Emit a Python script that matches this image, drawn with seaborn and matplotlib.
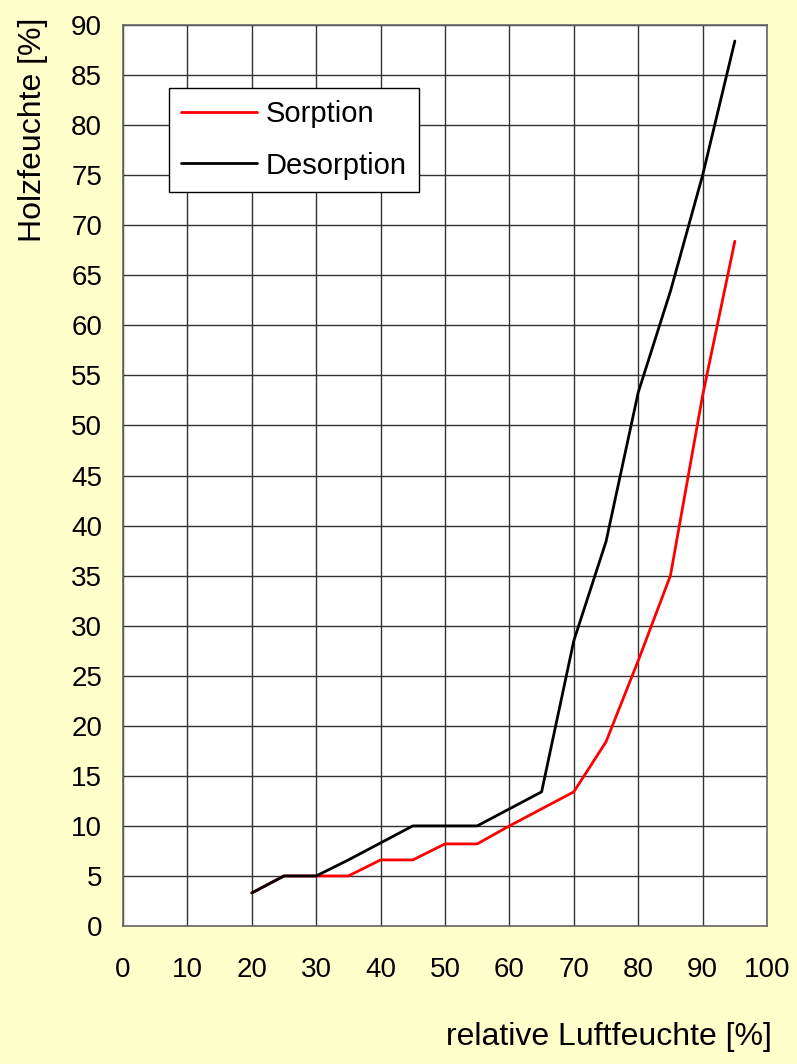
import matplotlib
matplotlib.use('Agg')
import matplotlib.pyplot as plt
import seaborn as sns
import pandas as pd

# relative Luftfeuchte [%]
rel_humidity = [20, 25, 30, 35, 40, 45, 50, 55, 60, 65, 70, 75, 80, 85, 90, 95]
# Holzfeuchte [%]
sorption = [3.3, 5, 5, 5, 6.6, 6.6, 8.2, 8.2, 10, 11.7, 13.4, 18.4, 26.5, 35, 53, 68.4]
desorption = [3.3, 5, 5, 6.6, 8.3, 10, 10, 10, 11.7, 13.4, 28.5, 38.4, 53.3, 63.4, 75, 88.4]

x_ticks = list(range(0, 101, 10))
y_ticks = list(range(0, 91, 5))

df = pd.DataFrame({
    'rh': rel_humidity * 2,
    'mc': sorption + desorption,
    'kurve': ['Sorption'] * len(sorption) + ['Desorption'] * len(desorption),
})

sns.set_style('white')
plt.rcParams['font.family'] = ['Liberation Sans', 'DejaVu Sans']
plt.rcParams['text.color'] = 'black'
plt.rcParams['xtick.color'] = 'black'
plt.rcParams['ytick.color'] = 'black'

fig = plt.figure(figsize=(7.97, 10.64), dpi=100, facecolor='#FFFFCC')
ax = fig.add_axes([0.1543, 0.1297, 0.8081, 0.8468])
ax.set_facecolor('white')

sns.lineplot(data=df, x='rh', y='mc', hue='kurve', palette={'Sorption': '#FF0000', 'Desorption': '#000000'},
             linewidth=2, ax=ax, sort=False)

ax.set_xlim(0, 100)
ax.set_ylim(0, 90)
ax.set_xticks(x_ticks)
ax.set_yticks(y_ticks)
ax.tick_params(axis='both', labelsize=20, width=1, direction='out')
ax.tick_params(axis='x', length=4.5, pad=18)
ax.tick_params(axis='y', length=6, pad=9)
ax.grid(True, color='#333333', linewidth=1)
for s in ax.spines.values():
    s.set_color('#666666')
    s.set_linewidth(1.2)

ax.set_xlabel('')
ax.set_ylabel('')
fig.text(0.969, 0.011, 'relative Luftfeuchte [%]', ha='right', va='bottom', fontsize=23)
fig.text(0.041, 0.983, 'Holzfeuchte [%]', ha='center', va='top', rotation=90, fontsize=23)

leg = ax.legend(loc='upper left', bbox_to_anchor=(0.0714, 0.930), fontsize=21, frameon=True,
                fancybox=False, edgecolor='black', framealpha=1, handlelength=2.6,
                borderpad=0.42, labelspacing=0.8, handletextpad=0.3, borderaxespad=0)
leg.get_frame().set_linewidth(1)

fig.savefig('out.png', dpi=100, facecolor=fig.get_facecolor())
